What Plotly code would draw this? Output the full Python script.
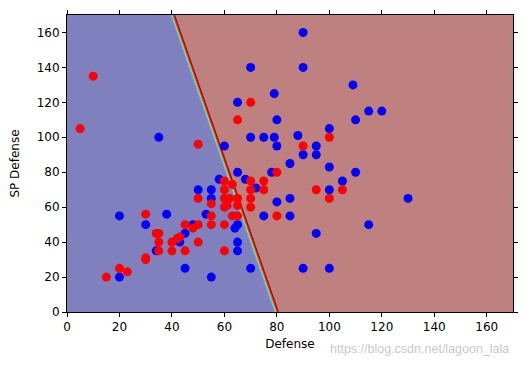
import numpy as np
import plotly.graph_objects as go

# ---- data ----
blue_x = [35, 60, 70, 65, 70, 75, 65, 58, 68, 78, 90, 90, 109, 79, 80, 115, 120, 110, 100, 79,
          80, 88, 95, 90, 95, 85, 100, 110, 105, 100, 80, 85, 130, 75, 85, 115, 95, 90, 100,
          50, 55, 72, 55, 53, 38, 20, 30, 48, 64, 65, 45, 43, 65, 34, 65, 45, 70, 20, 55]
blue_y = [100, 95, 140, 120, 100, 100, 80, 76, 76, 80, 160, 140, 130, 125, 110, 115, 115, 110, 105, 100,
          95, 101, 95, 90, 90, 85, 83, 80, 75, 70, 63, 65, 65, 55, 55, 50, 45, 25, 25,
          70, 70, 71, 65, 56, 56, 55, 50, 50, 48, 50, 45, 40, 40, 35, 35, 25, 25, 20, 20]

red_x = [10, 5, 50, 70, 65, 60, 70, 100, 90, 80, 75, 75, 95, 105, 100, 80, 60, 70, 63, 50,
         60, 62, 65, 70, 55, 60, 61, 65, 70, 55, 63, 65, 30, 45, 50, 55, 60, 48, 34, 35,
         43, 42, 40, 35, 50, 35, 40, 45, 60, 30, 30, 20, 23, 15]
red_y = [135, 105, 96, 120, 110, 75, 75, 100, 95, 80, 75, 70, 70, 70, 65, 55, 70, 70, 73, 65,
         65, 65, 65, 65, 62, 60, 61, 61, 60, 55, 55, 55, 56, 50, 50, 50, 50, 48, 45, 45,
         43, 42, 40, 40, 40, 35, 35, 35, 35, 31, 30, 25, 23, 20]

# decision boundary (two points on it)
boundary_x = [40.6, 80.2]
boundary_y = [170, 0]

x_ticks = [0, 20, 40, 60, 80, 100, 120, 140, 160]
y_ticks = [0, 20, 40, 60, 80, 100, 120, 140, 160]

# ---- decision region grid ----
gx = np.arange(0, 170.25, 0.5)
gy = np.arange(0, 170.25, 0.5)
XX, YY = np.meshgrid(gx, gy)
slope = (boundary_x[1] - boundary_x[0]) / (boundary_y[1] - boundary_y[0])
xb = boundary_x[0] + (YY - boundary_y[0]) * slope
Z = (XX > xb).astype(float)

fig = go.Figure()
fig.add_trace(go.Heatmap(
    x=gx, y=gy, z=Z, zsmooth=False, showscale=False, hoverinfo="skip",
    colorscale=[[0, "rgb(128,128,191)"], [1, "rgb(191,128,128)"]], zmin=0, zmax=1))

# boundary stripes (contour-edge colours)
for off, col, w in [(-1.0, "#20d0ff", 1.0), (-0.55, "#c8e040", 1.0), (-0.1, "#ff3010", 1.0), (0.35, "#a00000", 1.2)]:
    fig.add_trace(go.Scatter(x=[v + off for v in boundary_x], y=boundary_y, mode="lines",
                             line=dict(color=col, width=w), hoverinfo="skip", showlegend=False))

fig.add_trace(go.Scatter(x=blue_x, y=blue_y, mode="markers",
                         marker=dict(color="#0000ff", size=9, line=dict(width=0)), showlegend=False))
fig.add_trace(go.Scatter(x=red_x, y=red_y, mode="markers",
                         marker=dict(color="#ff0000", size=9, line=dict(width=0)), showlegend=False))

axis_common = dict(showgrid=False, zeroline=False, showline=True, linecolor="black", linewidth=1,
                   mirror="ticks", ticks="outside", ticklen=4, tickcolor="black", automargin=False,
                   tickfont=dict(family="DejaVu Sans", size=12, color="black"))

fig.update_xaxes(range=[0, 170], tickvals=x_ticks, title=dict(text="Defense", standoff=6,
                 font=dict(family="DejaVu Sans", size=12, color="black")), **axis_common)
fig.update_yaxes(range=[0, 170], tickvals=y_ticks, title=dict(text="SP Defense", standoff=17,
                 font=dict(family="DejaVu Sans", size=12, color="black")), **axis_common)

fig.add_annotation(text="https://blog.csdn.net/lagoon_lala", xref="paper", yref="paper",
                   x=0.995, y=-0.125, xanchor="right", yanchor="middle", showarrow=False,
                   font=dict(family="Liberation Sans", size=12.5, color="rgba(185,185,185,0.8)"))

# the page body adds an 8 px offset, so the figure is sized to fit the window
fig.update_layout(width=519, height=357, margin=dict(l=59, r=14, t=7, b=53),
                  plot_bgcolor="white", paper_bgcolor="white")

fig.write_html("out.html")
